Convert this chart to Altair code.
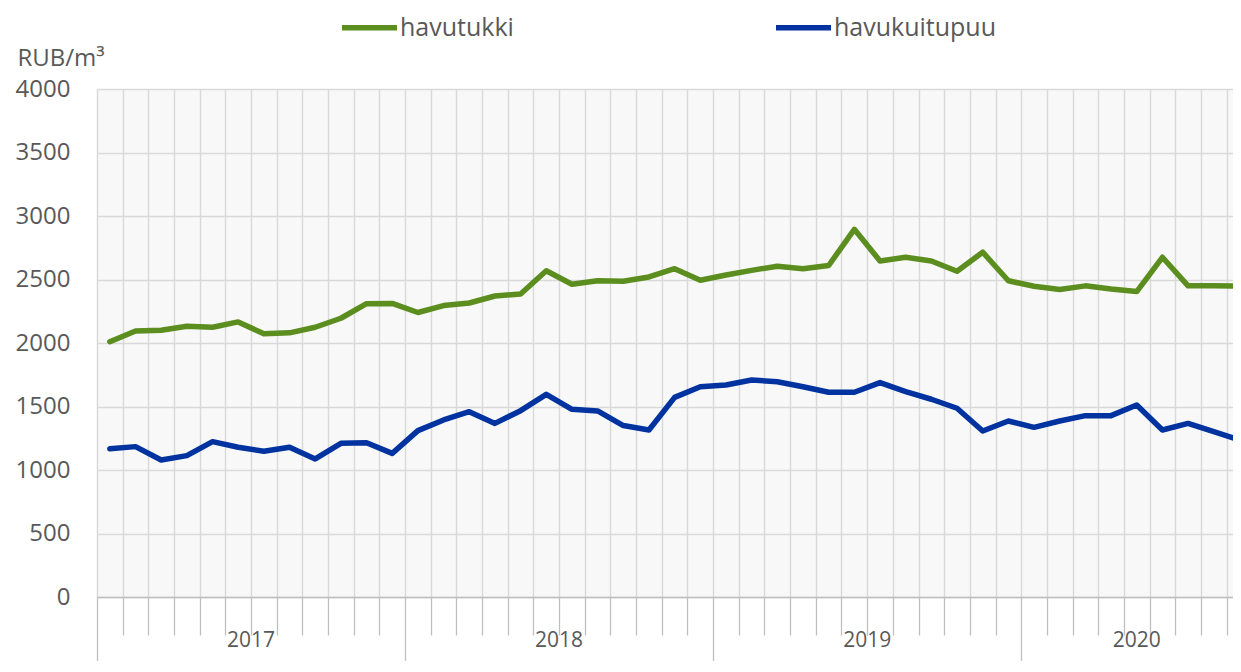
import altair as alt
import pandas as pd

# ---- data ----
series_names = ["havutukki", "havukuitupuu"]
years = ["2017", "2018", "2019", "2020"]
year_first_month = [0, 12, 24, 36]
year_last_month = [12, 24, 36, 45]

havutukki = [2010, 2095, 2100, 2132, 2124, 2166, 2073, 2080, 2124, 2195, 2310, 2312,
             2240, 2295, 2315, 2370, 2386, 2569, 2463, 2490, 2486, 2520, 2585, 2494,
             2535, 2572, 2605, 2585, 2610, 2895, 2646, 2675, 2646, 2565, 2715, 2490,
             2447, 2422, 2450, 2425, 2405, 2675, 2450, 2450, 2448]
havukuitupuu = [1168, 1184, 1079, 1113, 1223, 1179, 1147, 1179, 1087, 1210, 1215, 1131,
                1310, 1394, 1459, 1367, 1467, 1596, 1478, 1465, 1350, 1315, 1572, 1656,
                1669, 1709, 1695, 1656, 1612, 1612, 1688, 1617, 1557, 1486, 1307, 1386,
                1336, 1386, 1428, 1428, 1512, 1315, 1367, 1302, 1236]

months = [f"{y}-{m:02d}" for y in years for m in range(1, 13)][:len(havutukki)]

rows = []
for name, vals in zip(series_names, [havutukki, havukuitupuu]):
    for i, (mon, v) in enumerate(zip(months, vals)):
        rows.append({"series": name, "month": mon, "idx": i, "value": v})
df = pd.DataFrame(rows)

years_df = pd.DataFrame({"year": years, "start": year_first_month, "end": year_last_month})

TEXT = "#595959"
GRID = "#d9d9d9"
AXIS = "#bfbfbf"
FONT = "Open Sans"

x_scale = alt.Scale(domain=[0, 44.25], nice=False, zero=False)
x_axis = alt.Axis(
    values=list(range(45)), labels=False, title=None,
    grid=True, gridColor=GRID, gridWidth=1.5,
    domainColor=AXIS, domainWidth=1.5,
    tickColor=AXIS, tickWidth=1.3,
    tickSize={"condition": {"test": "datum.value % 12 === 0", "value": 70}, "value": 38},
)

lines = alt.Chart(df).transform_calculate(
    pos="datum.idx + 0.5"
).mark_line(strokeWidth=5.5, strokeCap="round", strokeJoin="round", clip=True).encode(
    x=alt.X("pos:Q", scale=x_scale, axis=x_axis),
    y=alt.Y("value:Q",
            scale=alt.Scale(domain=[0, 4000], nice=False),
            axis=alt.Axis(values=list(range(0, 4001, 500)), format="d", grid=True,
                          gridColor=GRID, gridWidth=1.5, ticks=False, domain=False,
                          labelPadding=27, labelFontSize=24, labelColor=TEXT,
                          labelFont=FONT,
                          title="RUB/m³", titleAngle=0, titleX=-80, titleY=-24,
                          titleAlign="left", titleBaseline="alphabetic", titleFontSize=24,
                          titleFontWeight="normal", titleColor=TEXT, titleFont=FONT)),
    color=alt.Color("series:N",
                    scale=alt.Scale(domain=series_names, range=["#5b8e1f", "#0033a0"]),
                    legend=alt.Legend(orient="none", legendX=242, legendY=-92,
                                      direction="horizontal", title=None,
                                      symbolType="stroke", symbolStrokeWidth=5.5,
                                      symbolSize=3025, labelFontSize=25, labelFont=FONT,
                                      labelColor=TEXT, labelOffset=0, columnPadding=251,
                                      labelLimit=400, padding=0)),
    order="idx:Q",
)

year_labels = alt.Chart(years_df).transform_calculate(
    mid="(datum.start + datum.end) / 2"
).mark_text(fontSize=21, font=FONT, color=TEXT, baseline="middle").encode(
    x=alt.X("mid:Q", scale=x_scale, axis=x_axis),
    y=alt.value(552),
    text="year:N",
)

chart = alt.layer(lines, year_labels).properties(
    width=1136, height=508,
    padding={"left": 89, "top": 81, "right": 0, "bottom": 64},
    autosize=alt.AutoSizeParams(type="none"),
).configure_view(fill="#f8f8f8", strokeWidth=0)

chart.save("out.html", embed_options={"renderer": "svg", "actions": False})
